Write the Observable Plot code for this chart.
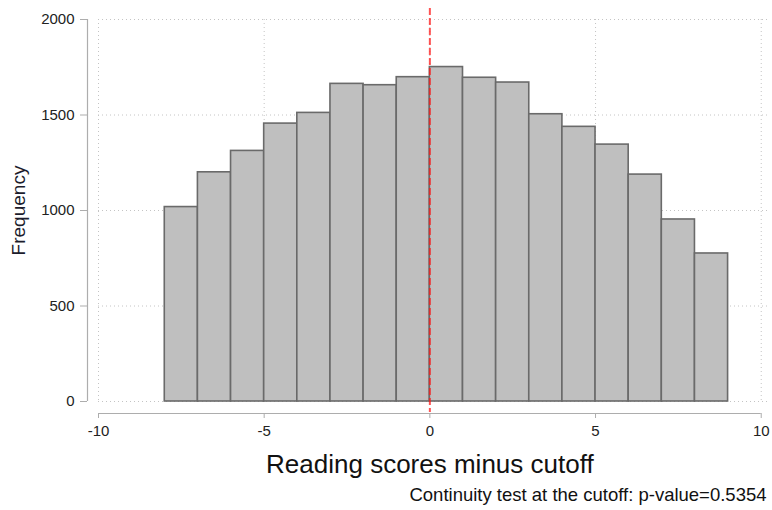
<!DOCTYPE html>
<html>
<head>
<meta charset="utf-8">
<script src="https://cdn.jsdelivr.net/npm/d3@7"></script>
<script src="https://cdn.jsdelivr.net/npm/@observablehq/plot@0.6"></script>
<style>
  html, body { margin: 0; padding: 0; background: #fff; }
  #chart svg { display: block; font-family: "Liberation Sans", Arial, sans-serif; }
</style>
</head>
<body>
<div id="chart"></div>
<script>
// Histogram of reading scores centred on the cutoff (bins of width 1)
const binStart = [-8, -7, -6, -5, -4, -3, -2, -1, 0, 1, 2, 3, 4, 5, 6, 7, 8];
const frequency = [1018, 1200, 1312, 1455, 1511, 1663, 1656, 1698, 1751, 1695, 1670, 1504, 1438, 1345, 1188, 953, 775];
const xTicks = [-10, -5, 0, 5, 10];
const yTicks = [0, 500, 1000, 1500, 2000];
const cutoff = 0;
const xLabel = "Reading scores minus cutoff";
const yLabel = "Frequency";
const note = "Continuity test at the cutoff: p-value=0.5354";

const bins = binStart.map((x, i) => ({x1: x, x2: x + 1, count: frequency[i]}));

const axisGray = "#adadad";
const textColor = "#222";
const plainNumber = (d) => String(d);   // ASCII hyphen, no thousands separator

const chart = Plot.plot({
  width: 772,
  height: 510,
  marginLeft: 98,
  marginRight: 2,
  marginTop: 19,
  marginBottom: 109,
  style: {fontFamily: "'Liberation Sans', Arial, sans-serif", background: "#fff"},
  x: {domain: [-10, 10.28], axis: null},
  y: {domain: [0, 2000], axis: null},
  marks: [
    Plot.gridY(yTicks, {stroke: "#c4c4c4", strokeOpacity: 1, strokeDasharray: "1,3"}),
    Plot.gridX(xTicks, {stroke: "#c4c4c4", strokeOpacity: 1, strokeDasharray: "1,3"}),
    Plot.rectY(bins, {x1: "x1", x2: "x2", y: "count", fill: "#bfbfbf", stroke: "#6a6a6a", strokeWidth: 1.6}),
    // cutoff marker, drawn over the bars
    Plot.ruleX([cutoff], {stroke: "#ff1a1a", strokeWidth: 2, strokeOpacity: 0.75, strokeDasharray: "7,3", insetTop: -11, insetBottom: -11}),
    // left axis, offset from the plotting area
    Plot.ruleX([-10], {y1: 0, y2: 2000, dx: -11, stroke: axisGray, strokeWidth: 1.2}),
    Plot.axisY(yTicks, {tickSize: 7, tickPadding: 6, dx: -11, stroke: axisGray, fill: textColor, fontSize: 15, tickFormat: plainNumber, label: null}),
    // bottom axis, offset below zero
    Plot.ruleY([0], {x1: -10, x2: 10, dy: 12, stroke: axisGray, strokeWidth: 1.2}),
    Plot.axisX(xTicks, {tickSize: 5, tickPadding: 7, dy: 12, stroke: axisGray, fill: textColor, fontSize: 15, tickFormat: plainNumber, label: null}),
    Plot.text([yLabel], {frameAnchor: "left", dx: -80, rotate: -90, textAnchor: "middle", lineAnchor: "middle", fontSize: 19, fill: "#1c1c2c"}),
    Plot.text([xLabel], {x: cutoff, frameAnchor: "bottom", dy: 63, lineAnchor: "middle", fontSize: 26, fill: "#111"}),
    Plot.text([note], {frameAnchor: "bottom-right", dx: -4, dy: 94, textAnchor: "end", lineAnchor: "middle", fontSize: 18.5, fill: "#111"})
  ]
});

document.getElementById("chart").appendChild(chart);
</script>
</body>
</html>
